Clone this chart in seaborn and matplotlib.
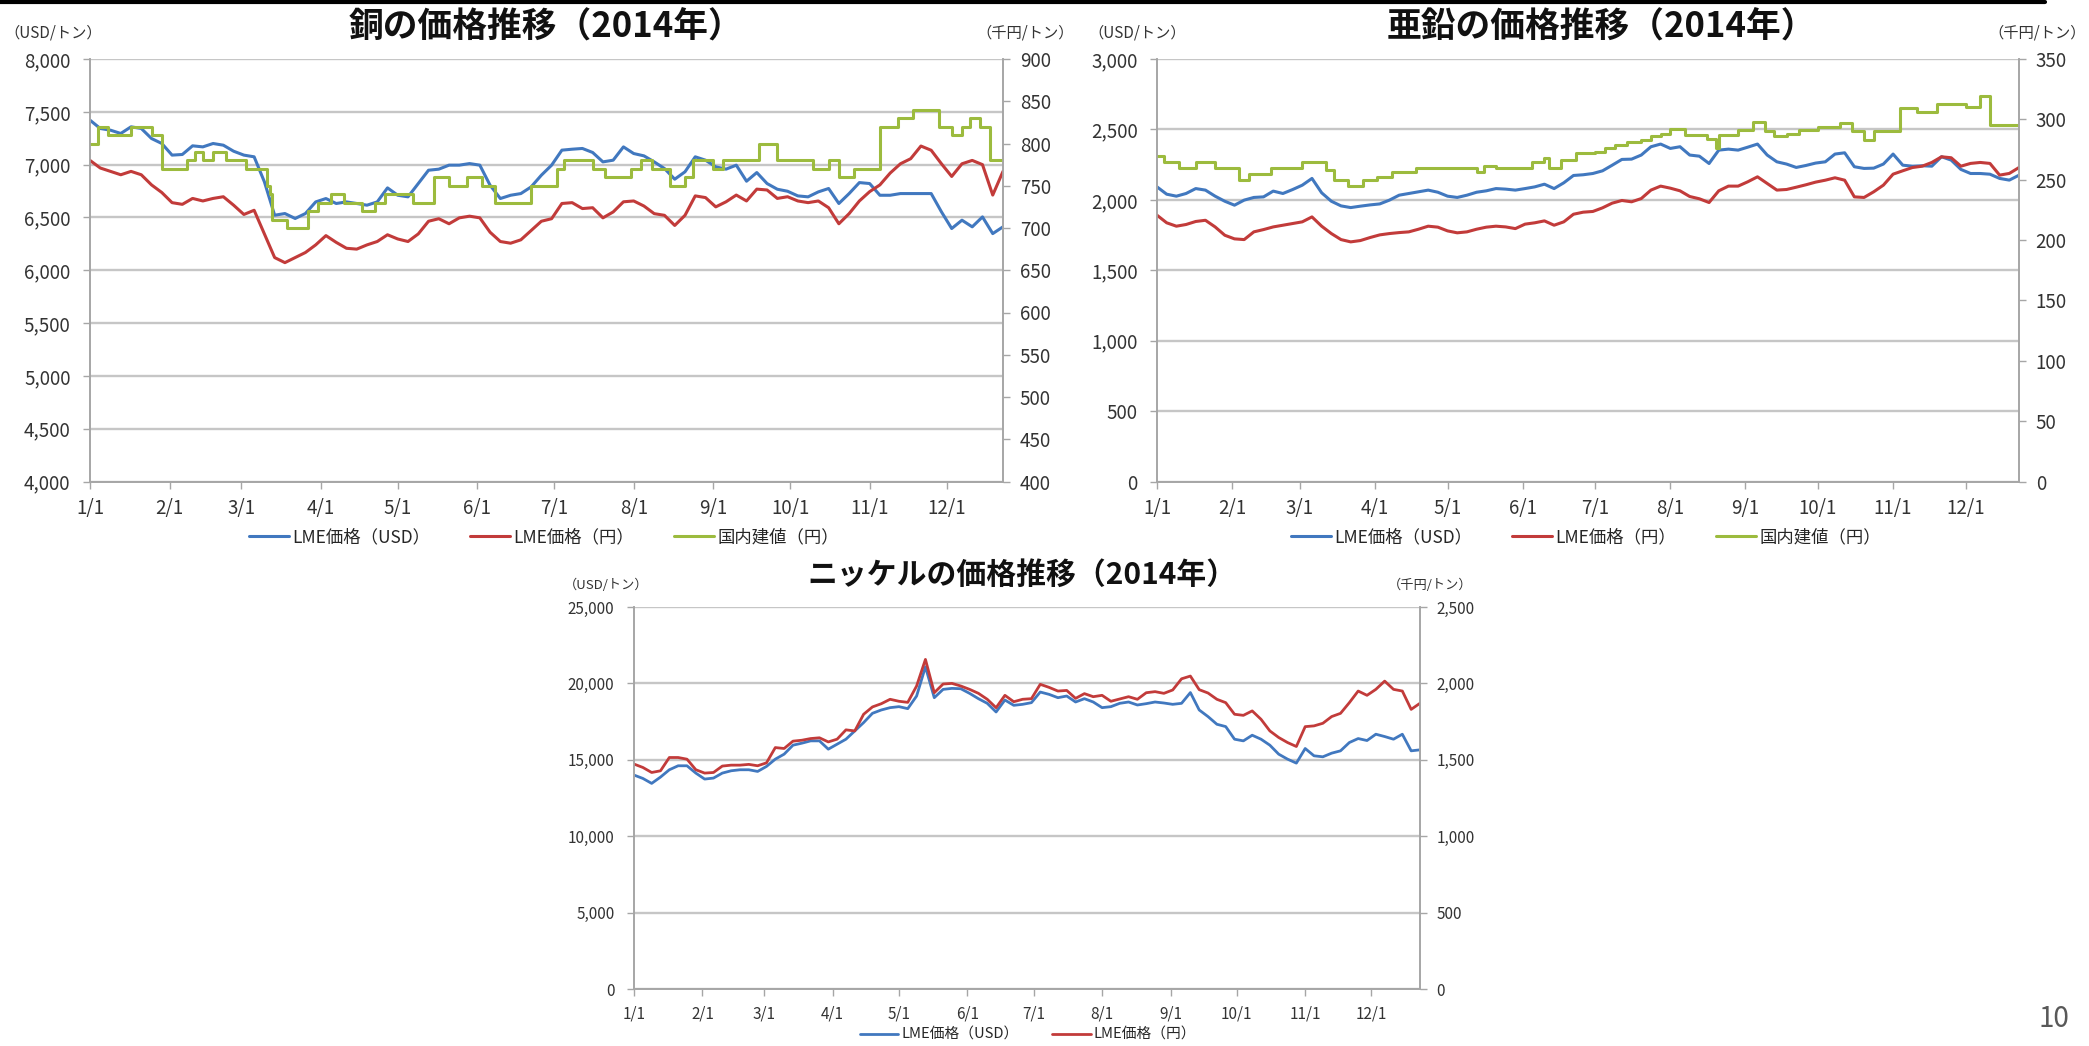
import pandas as pd
import matplotlib
matplotlib.use("Agg")
import matplotlib.pyplot as plt
import matplotlib.dates as mdates
from matplotlib.lines import Line2D
from matplotlib.ticker import FuncFormatter, MultipleLocator
import seaborn as sns

sns.set_theme(style="white")
plt.rcParams["font.family"] = ["Noto Sans CJK JP", "DejaVu Sans"]

# ---------------------------------------------------------------- data
# LME prices sampled every four days, 2014-01-01 .. 2014-12-23
sample_dates = pd.date_range("2014-01-01", "2014-12-23", freq="4D")

copper_usd = [
    7421, 7342, 7326, 7295, 7358, 7342, 7247, 7200, 7090, 7096, 7178, 7168,
    7200, 7184, 7127, 7090, 7074, 6837, 6521, 6537, 6490, 6537, 6647, 6679,
    6632, 6647, 6632, 6616, 6647, 6780, 6710, 6695, 6821, 6947, 6957, 6995,
    6995, 7010, 6995, 6805, 6679, 6710, 6726, 6789, 6900, 6995, 7137, 7146,
    7153, 7115, 7026, 7042, 7168, 7105, 7083, 7026, 6963, 6862, 6932, 7074,
    7042, 6979, 6957, 6995, 6843, 6925, 6821, 6767, 6748, 6704, 6695, 6742,
    6774, 6632, 6726, 6830, 6821, 6710, 6710, 6726, 6726, 6726, 6726, 6553,
    6395, 6474, 6411, 6505, 6347, 6411,
]
copper_jpy = [
    780, 771, 767, 763, 767, 763, 751, 742, 730, 728, 735, 732,
    735, 737, 727, 716, 721, 693, 665, 659, 665, 671, 680, 691,
    683, 676, 675, 680, 684, 692, 687, 684, 693, 708, 711, 705,
    712, 714, 712, 695, 684, 682, 686, 697, 708, 711, 729, 730,
    723, 724, 712, 719, 731, 732, 726, 717, 715, 703, 715, 738,
    736, 725, 731, 739, 732, 746, 745, 735, 737, 732, 730, 732,
    724, 705, 717, 732, 743, 751, 765, 776, 782, 797, 792, 776,
    761, 776, 780, 775, 739, 767,
]
# domestic copper price: revision dates and new price (thousand yen / t)
copper_dom_dates = [
    "2014-01-01", "2014-01-04", "2014-01-08", "2014-01-17", "2014-01-25",
    "2014-01-29", "2014-02-08", "2014-02-11", "2014-02-14", "2014-02-18",
    "2014-02-23", "2014-03-03", "2014-03-11", "2014-03-12", "2014-03-13",
    "2014-03-19", "2014-03-27", "2014-03-31", "2014-04-05", "2014-04-10",
    "2014-04-17", "2014-04-22", "2014-04-26", "2014-05-07", "2014-05-15",
    "2014-05-21", "2014-05-28", "2014-06-03", "2014-06-08", "2014-06-22",
    "2014-07-02", "2014-07-05", "2014-07-16", "2014-07-21", "2014-07-31",
    "2014-08-04", "2014-08-08", "2014-08-15", "2014-08-21", "2014-08-24",
    "2014-09-01", "2014-09-05", "2014-09-19", "2014-09-26", "2014-10-10",
    "2014-10-16", "2014-10-20", "2014-10-26", "2014-11-05", "2014-11-12",
    "2014-11-18", "2014-11-28", "2014-12-03", "2014-12-07", "2014-12-10",
    "2014-12-14", "2014-12-18", "2014-12-23",
]
copper_dom_price = [
    800, 820, 810, 820, 810, 770, 780, 790, 780, 790, 780, 770, 750, 740,
    710, 700, 720, 730, 740, 730, 720, 730, 740, 730, 760, 750, 760, 750,
    730, 750, 770, 780, 770, 760, 770, 780, 770, 750, 760, 780, 770, 780,
    800, 780, 770, 780, 760, 770, 820, 830, 840, 820, 810, 820, 830, 820,
    780, 780,
]

zinc_usd = [
    2092, 2040, 2026, 2045, 2080, 2069, 2026, 1990, 1962, 1998, 2017, 2021,
    2062, 2045, 2073, 2104, 2152, 2050, 1990, 1957, 1945, 1955, 1964, 1971,
    1998, 2033, 2045, 2057, 2069, 2054, 2026, 2017, 2033, 2054, 2064, 2080,
    2076, 2069, 2080, 2092, 2111, 2080, 2121, 2173, 2178, 2187, 2206, 2246,
    2287, 2289, 2318, 2377, 2396, 2365, 2377, 2318, 2310, 2258, 2353, 2360,
    2353, 2374, 2396, 2318, 2270, 2254, 2230, 2244, 2261, 2270, 2325, 2334,
    2235, 2223, 2225, 2254, 2325, 2246, 2239, 2242, 2239, 2306, 2282, 2216,
    2187, 2187, 2182, 2152, 2140, 2175,
]
zinc_jpy = [
    220.6, 214.3, 211.5, 212.9, 215.4, 216.4, 210.9, 204.0, 201.0, 200.4,
    206.8, 208.7, 210.9, 212.3, 213.7, 215.1, 219.2, 211.5, 205.4, 200.4,
    198.5, 199.6, 202.1, 204.3, 205.4, 206.2, 206.8, 209.0, 211.5, 210.7,
    207.6, 206.0, 206.8, 209.0, 210.7, 211.5, 210.9, 209.5, 213.2, 214.3,
    215.9, 212.3, 215.1, 221.4, 223.1, 223.7, 226.7, 230.6, 232.8, 231.7,
    234.4, 241.4, 244.7, 243.0, 240.8, 236.1, 234.2, 231.1, 240.8, 244.7,
    244.7, 248.3, 252.4, 246.9, 241.4, 241.9, 243.8, 245.8, 248.0, 249.6,
    251.6, 249.6, 235.8, 235.3, 240.0, 245.5, 254.6, 257.4, 260.1, 261.2,
    264.3, 269.0, 268.2, 261.2, 263.5, 264.3, 263.5, 253.8, 255.2, 260.1,
]
zinc_dom_dates = [
    "2014-01-01", "2014-01-04", "2014-01-10", "2014-01-17", "2014-01-25",
    "2014-02-04", "2014-02-08", "2014-02-17", "2014-03-02", "2014-03-12",
    "2014-03-15", "2014-03-21", "2014-03-27", "2014-04-02", "2014-04-08",
    "2014-04-18", "2014-05-13", "2014-05-16", "2014-05-21", "2014-06-05",
    "2014-06-10", "2014-06-12", "2014-06-17", "2014-06-23", "2014-07-01",
    "2014-07-05", "2014-07-09", "2014-07-14", "2014-07-20", "2014-07-24",
    "2014-07-28", "2014-08-01", "2014-08-07", "2014-08-16", "2014-08-20",
    "2014-08-21", "2014-08-29", "2014-09-04", "2014-09-09", "2014-09-13",
    "2014-09-18", "2014-09-23", "2014-10-01", "2014-10-10", "2014-10-15",
    "2014-10-20", "2014-10-24", "2014-11-04", "2014-11-11", "2014-11-19",
    "2014-12-01", "2014-12-07", "2014-12-11", "2014-12-23",
]
zinc_dom_price = [
    270, 265, 260, 265, 260, 250, 255, 260, 265, 258, 250, 245, 250, 252,
    256, 260, 256, 261, 260, 265, 268, 260, 266, 272, 273, 276, 279, 281,
    283, 286, 288, 292, 287, 284, 276, 287, 291, 298, 290, 286, 288, 291,
    294, 297, 290, 283, 290, 309, 306, 313, 310, 319, 295, 295,
]

nickel_usd = [
    14000, 13782, 13456, 13869, 14348, 14609, 14609, 14130, 13739, 13804,
    14130, 14282, 14348, 14348, 14239, 14565, 15043, 15369, 15956, 16087,
    16239, 16239, 15696, 16022, 16348, 16891, 17435, 18043, 18261, 18413,
    18478, 18348, 19174, 21087, 19065, 19609, 19674, 19652, 19348, 19000,
    18696, 18130, 18913, 18565, 18630, 18739, 19435, 19283, 19065, 19174,
    18783, 19000, 18783, 18413, 18478, 18696, 18783, 18587, 18674, 18783,
    18717, 18630, 18696, 19400, 18261, 17826, 17326, 17174, 16348, 16239,
    16609, 16348, 15956, 15369, 15043, 14783, 15739, 15261, 15196, 15435,
    15587, 16130, 16391, 16261, 16674, 16522, 16348, 16674, 15587, 15652,
]
nickel_jpy = [
    1472, 1450, 1417, 1428, 1515, 1515, 1504, 1435, 1413, 1417,
    1459, 1465, 1465, 1470, 1461, 1480, 1580, 1574, 1622, 1628,
    1639, 1644, 1617, 1635, 1696, 1689, 1798, 1846, 1867, 1896,
    1883, 1876, 1983, 2157, 1939, 1996, 2000, 1983, 1961, 1935,
    1896, 1841, 1922, 1880, 1896, 1900, 1994, 1974, 1950, 1954,
    1902, 1933, 1913, 1922, 1883, 1898, 1913, 1896, 1939, 1946,
    1935, 1957, 2030, 2048, 1959, 1937, 1896, 1874, 1798, 1791,
    1820, 1765, 1689, 1646, 1613, 1587, 1717, 1722, 1739, 1783,
    1804, 1874, 1950, 1922, 1961, 2015, 1961, 1950, 1830, 1870,
]

month_ticks = pd.date_range("2014-01-01", "2014-12-01", freq="MS")

# ---------------------------------------------------------------- style
BLUE = "#4178BF"
RED = "#C23B3A"
GREEN = "#9CBB3E"
GRID = "#C6C6C6"
AXIS = "#A6A6A6"
TEXT = "#333333"

W, H = 2089, 1046
fig = plt.figure(figsize=(W / 100, H / 100), dpi=100)
fig.patch.set_facecolor("white")


def px_rect(x0, y0, x1, y1):
    return [x0 / W, 1 - y1 / H, (x1 - x0) / W, (y1 - y0) / H]


def thousands(v, _):
    return f"{v:,.0f}"


def month_label(v, _):
    d = mdates.num2date(v)
    return f"{d.month}/{d.day}"


def draw_panel(rect, usd, jpy, left_lim, left_step, right_lim, right_step,
               domestic=None, tick_fs=13.5, lw=2.2):
    ax = fig.add_axes(rect)
    frame = pd.DataFrame({"date": sample_dates, "usd": usd, "jpy": jpy})

    sns.lineplot(data=frame, x="date", y="usd", ax=ax, color=BLUE,
                 linewidth=lw, legend=False)
    h_usd = ax.lines[-1]

    ax2 = ax.twinx()
    sns.lineplot(data=frame, x="date", y="jpy", ax=ax2, color=RED,
                 linewidth=lw, legend=False)
    handles = [h_usd, ax2.lines[-1]]
    labels = ["LME価格（USD）", "LME価格（円）"]

    if domestic is not None:
        dom = pd.DataFrame({"date": pd.to_datetime(domestic[0]),
                            "price": domestic[1]})
        sns.lineplot(data=dom, x="date", y="price", ax=ax2, color=GREEN,
                     linewidth=lw, drawstyle="steps-post", legend=False)
        handles.append(ax2.lines[-1])
        labels.append("国内建値（円）")

    ax.set_xlim(pd.Timestamp("2014-01-01"), pd.Timestamp("2014-12-23"))
    ax.set_ylim(*left_lim)
    ax2.set_ylim(*right_lim)
    ax.yaxis.set_major_locator(MultipleLocator(left_step))
    ax2.yaxis.set_major_locator(MultipleLocator(right_step))
    ax.yaxis.set_major_formatter(FuncFormatter(thousands))
    ax2.yaxis.set_major_formatter(FuncFormatter(thousands))
    ax.set_xticks(month_ticks)
    ax.xaxis.set_major_formatter(FuncFormatter(month_label))

    for a in (ax, ax2):
        a.set_xlabel("")
        a.set_ylabel("")
        a.set_facecolor("none")
        a.spines["top"].set_visible(False)
        for side in ("left", "right", "bottom"):
            a.spines[side].set_color(AXIS)
            a.spines[side].set_linewidth(1.2)
    ax.set_facecolor("white")
    ax.set_zorder(0)
    ax2.set_zorder(1)

    ax.grid(axis="y", color=GRID, linewidth=1.7)
    ax.grid(axis="x", visible=False)
    ax2.grid(False)
    ax.set_axisbelow(True)

    ax.tick_params(axis="y", left=True, right=False, length=5, width=1,
                   color=AXIS, pad=9, labelsize=tick_fs, labelcolor=TEXT)
    ax.tick_params(axis="x", bottom=True, length=5, width=1, color=AXIS,
                   pad=7, labelsize=tick_fs, labelcolor=TEXT)
    ax2.tick_params(axis="y", right=True, left=False, length=5, width=1,
                    color=AXIS, pad=7, labelsize=tick_fs, labelcolor=TEXT)
    return ax, handles, labels


# ---------------------------------------------------------------- copper
ax_cu, h, l = draw_panel(px_rect(90, 59, 1003, 481.5), copper_usd, copper_jpy,
                         (4000, 8000), 500, (400, 900), 50,
                         domestic=(copper_dom_dates, copper_dom_price))
fig.legend(h, l, loc="center", bbox_to_anchor=(544 / W, 1 - 537 / H),
           ncol=3, frameon=False, fontsize=12.5, handlelength=2.3,
           handletextpad=0.2, columnspacing=2.3)
fig.text(546 / W, 1 - 27 / H, "銅の価格推移（2014年）", ha="center",
         va="center", fontsize=25, fontweight="bold", color="#111111")
fig.text(4 / W, 1 - 33 / H, "（USD/トン）", ha="left", va="center",
         fontsize=11, color=TEXT)
fig.text(976 / W, 1 - 33 / H, "（千円/トン）", ha="left", va="center",
         fontsize=11, color=TEXT)

# ---------------------------------------------------------------- zinc
ax_zn, h, l = draw_panel(px_rect(1157, 59, 2019, 481.5), zinc_usd, zinc_jpy,
                         (0, 3000), 500, (0, 350), 50,
                         domestic=(zinc_dom_dates, zinc_dom_price))
fig.legend(h, l, loc="center", bbox_to_anchor=(1586 / W, 1 - 537 / H),
           ncol=3, frameon=False, fontsize=12.5, handlelength=2.3,
           handletextpad=0.2, columnspacing=2.3)
fig.text(1601 / W, 1 - 27 / H, "亜鉛の価格推移（2014年）", ha="center",
         va="center", fontsize=25, fontweight="bold", color="#111111")
fig.text(1088 / W, 1 - 33 / H, "（USD/トン）", ha="left", va="center",
         fontsize=11, color=TEXT)
fig.text(2086 / W, 1 - 33 / H, "（千円/トン）", ha="right", va="center",
         fontsize=11, color=TEXT)

# ---------------------------------------------------------------- nickel
ax_ni, h, l = draw_panel(px_rect(634, 607, 1420, 989), nickel_usd, nickel_jpy,
                         (0, 25000), 5000, (0, 2500), 500,
                         tick_fs=11, lw=2.0)
fig.legend(h, l, loc="center", bbox_to_anchor=(1028 / W, 1 - 1035 / H),
           ncol=2, frameon=False, fontsize=10.6, handlelength=2.6,
           handletextpad=0.2, columnspacing=2.3)
fig.text(1022 / W, 1 - 575 / H, "ニッケルの価格推移（2014年）", ha="center",
         va="center", fontsize=21.5, fontweight="bold", color="#111111")
fig.text(564 / W, 1 - 585 / H, "（USD/トン）", ha="left", va="center",
         fontsize=9.5, color=TEXT)
fig.text(1388 / W, 1 - 585 / H, "（千円/トン）", ha="left", va="center",
         fontsize=9.5, color=TEXT)

# ---------------------------------------------------------------- page furniture
fig.add_artist(Line2D([0, 2045 / W], [1 - 2 / H, 1 - 2 / H],
                      transform=fig.transFigure, color="black", linewidth=3))
fig.text(2054 / W, 1 - 1019 / H, "10", ha="center", va="center",
         fontsize=20, color="#595959")

fig.savefig("out.png", dpi=100, facecolor="white")
